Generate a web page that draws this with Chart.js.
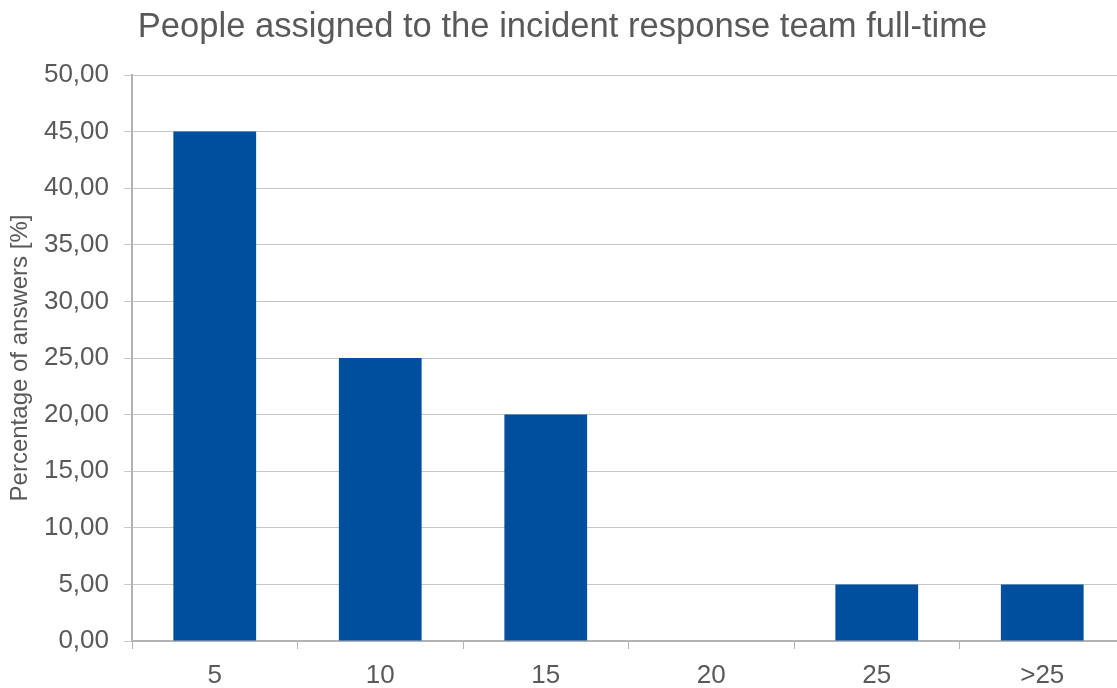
<!DOCTYPE html>
<html>
<head>
<meta charset="utf-8">
<script src="https://cdn.jsdelivr.net/npm/chart.js@4.4.0/dist/chart.umd.min.js"></script>
<style>
	html, body { margin: 0; padding: 0; background: #fff; overflow: hidden; }
	#chart { display: block; }
</style>
</head>
<body>
<canvas id="chart" width="1125" height="688"></canvas>
<script>
// ===== DATA =====
const categories = ['5', '10', '15', '20', '25', '>25'];
const percentages = [45, 25, 20, 0, 5, 5];
const yTickMin = 0;
const yTickMax = 50;
const yTickStep = 5;

const chartTitle = 'People assigned to the incident response team full-time';
const yAxisTitle = 'Percentage of answers [%]';

const textColor = '#595959';
const fontFamily = "'Liberation Sans', Arial, sans-serif";

// ===== CHART =====
const ctx = document.getElementById('chart').getContext('2d');

new Chart(ctx, {
	type: 'bar',
	data: {
		labels: categories,
		datasets: [{
			data: percentages,
			backgroundColor: '#004f9e',
			borderWidth: 0,
			categoryPercentage: 1,
			barPercentage: 0.5
		}]
	},
	options: {
		responsive: false,
		animation: false,
		layout: { padding: 0 },
		plugins: {
			legend: { display: false },
			tooltip: { enabled: false },
			title: {
				display: true,
				text: chartTitle,
				color: textColor,
				font: { size: 34.6, family: fontFamily, weight: 'normal' },
				padding: { top: 7, bottom: 26.5 }
			}
		},
		scales: {
			x: {
				afterFit: function(scale) { scale.height = 47; },
				grid: {
					drawOnChartArea: false,
					drawTicks: true,
					tickLength: 8,
					color: '#b3b3b3',
					offset: true
				},
				border: { color: '#b3b3b3', width: 2 },
				ticks: {
					color: textColor,
					padding: 11,
					font: { size: 26, family: fontFamily }
				}
			},
			y: {
				min: yTickMin,
				max: yTickMax,
				afterFit: function(scale) { scale.width = 132; },
				grid: {
					color: '#c8c8c8',
					tickLength: 8
				},
				border: { color: '#b3b3b3', width: 2 },
				ticks: {
					stepSize: yTickStep,
					color: textColor,
					padding: 15,
					font: { size: 26, family: fontFamily },
					callback: function(value) {
						return value.toFixed(2).replace('.', ',');
					}
				},
				title: {
					display: true,
					text: yAxisTitle,
					color: textColor,
					padding: { top: 6, bottom: 0 },
					font: { size: 24, family: fontFamily }
				}
			}
		}
	}
});
</script>
</body>
</html>
